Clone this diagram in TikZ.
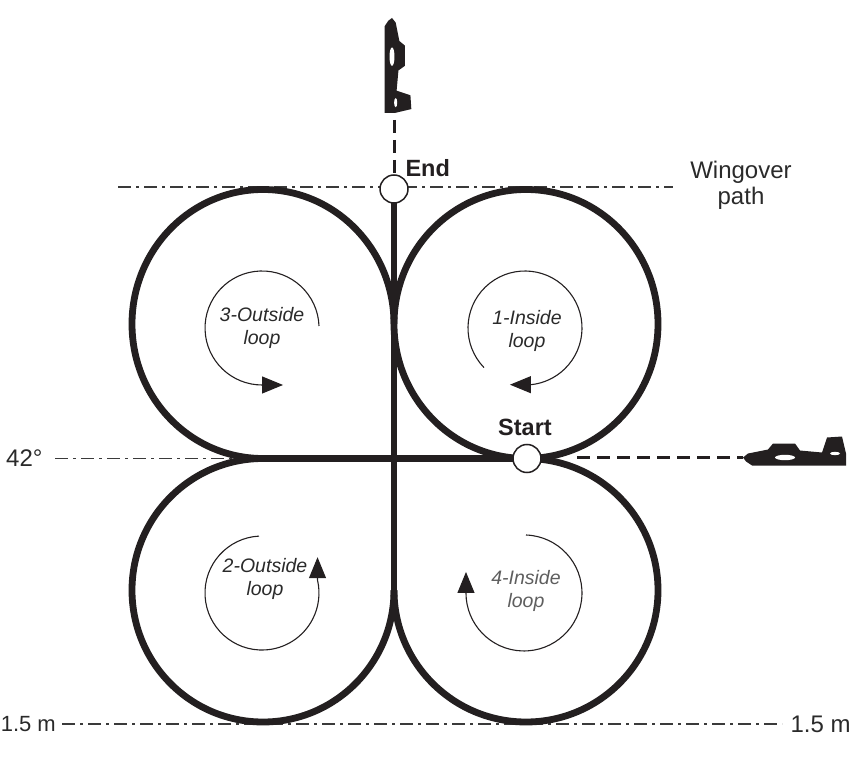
\documentclass[tikz,border=0pt]{standalone}
\usepackage{fontspec}
\setmainfont{Liberation Sans}
\usetikzlibrary{arrows.meta}
\definecolor{ink}{HTML}{231F20}
\definecolor{guide}{HTML}{3A3A3A}
\definecolor{lbl}{HTML}{2A2A2A}
\definecolor{pale}{HTML}{5E5E5E}

\begin{document}
\begin{tikzpicture}[x=1pt,y=-1pt,
  flight/.style={draw=ink, line width=6.8pt},
  refline/.style={draw=guide, line width=1.3pt, dash pattern=on 13pt off 5pt on 3pt off 5pt},
  trail/.style={draw=ink, line width=3pt, dash pattern=on 13pt off 7pt},
  marker/.style={circle, draw=ink, line width=1.5pt, fill=white, minimum size=28pt, inner sep=0pt},
  turn/.style={draw=ink, line width=1.1pt, -{Triangle[length=21pt,width=17pt]}},
  looplabel/.style={font=\fontsize{19.5}{23.5}\selectfont\itshape, align=center, text=lbl},
  tag/.style={font=\fontsize{23.5}{26}\selectfont\bfseries, text=ink},
  note/.style={font=\fontsize{24}{26}\selectfont, text=lbl},
  plane/.pic={
    \fill[ink] (0,0) -- (5,-4) -- (25,-8) -- (30,-14) -- (52,-14) -- (57,-7)
      -- (79,-5) -- (84,-20) -- (99,-21) -- (103,-4) -- (103,8) -- (9,8) -- (3,4) -- cycle;
    \fill[white] (42,0) ellipse[x radius=10, y radius=2.7];
    \fill[white] (92,-4) ellipse[x radius=5, y radius=1.7];
  },
]
\useasboundingbox (0,0) rectangle (851,783);

% key points of the figure
\coordinate (S) at (527,458.5);   % start of the manoeuvre
\coordinate (E) at (394,189);     % end of the manoeuvre
\coordinate (L) at (263,458.5);   % left junction of the loops
\coordinate (M) at (394,590.25);  % lower tangency of the loops
\coordinate (trailR) at (577,457.5);
\coordinate (noseR) at (743,457.5);
\coordinate (trailT) at (394,120);

% reference lines
\draw[refline] (118,187) -- (673,187);
\draw[refline] (55,458.5) -- (L);
\draw[refline] (62,724) -- (782,724);

% flight path
\draw[flight] (526,324) ellipse[x radius=132, y radius=134.5];
\draw[flight] (E |- 0,324) arc[start angle=0, end angle=-270, x radius=131, y radius=134.5];
\draw[flight] (L) arc[start angle=-90, end angle=-360, x radius=131, y radius=131.75];
\draw[flight] (526,458.5) arc[start angle=-90, end angle=180, x radius=132, y radius=131.75];
\draw[flight] (L) -- (S);
\draw[flight] (M) -- (E);

% sense of rotation inside each loop
\draw[turn] (319,326) arc[start angle=-2, end angle=-270, radius=57] -- ++(21,0);
\draw[turn] (484,367.6) arc[start angle=-224, end angle=84, radius=57] -- ++(-21,0);
\draw[turn] (259,536.1) arc[start angle=-93, end angle=-373, radius=57] -- ++(0,-23);
\draw[turn] (526,535) arc[start angle=-88, end angle=180, radius=58] -- ++(0,-21);

% approach and exit
\draw[trail] (trailR) -- (noseR);
\draw[trail] (trailT) -- (394,175);
\pic (planeR) at (noseR) {plane};
\pic[rotate=-90, scale=0.92] (planeT) at (392,18) {plane};

% start and end markers
\node[marker] (start) at (S) {};
\node[marker] (end) at (E) {};
\node[tag] (starttxt) at (525,427) {Start};
\node[tag, anchor=west] (endtxt) at (402,168) {End};

% loop names
\node[looplabel] (l3) at (262,328) {3-Outside\\loop};
\node[looplabel] (l1) at (527,331) {1-Inside\\loop};
\node[looplabel] (l2) at (265,579) {2-Outside\\loop};
\node[looplabel, text=pale] (l4) at (526,591) {4-Inside\\loop};

% reference line labels
\node[note, align=center] (wing) at (741,185) {Wingover\\path};
\node[note, anchor=east] (deg) at (46,458) {42°};
\node[note, anchor=east, font=\fontsize{22}{24}\selectfont, inner sep=1pt] (lm) at (57,724) {1.5 m};
\node[note, anchor=west] (rm) at (787,724) {1.5 m};
\end{tikzpicture}
\end{document}
